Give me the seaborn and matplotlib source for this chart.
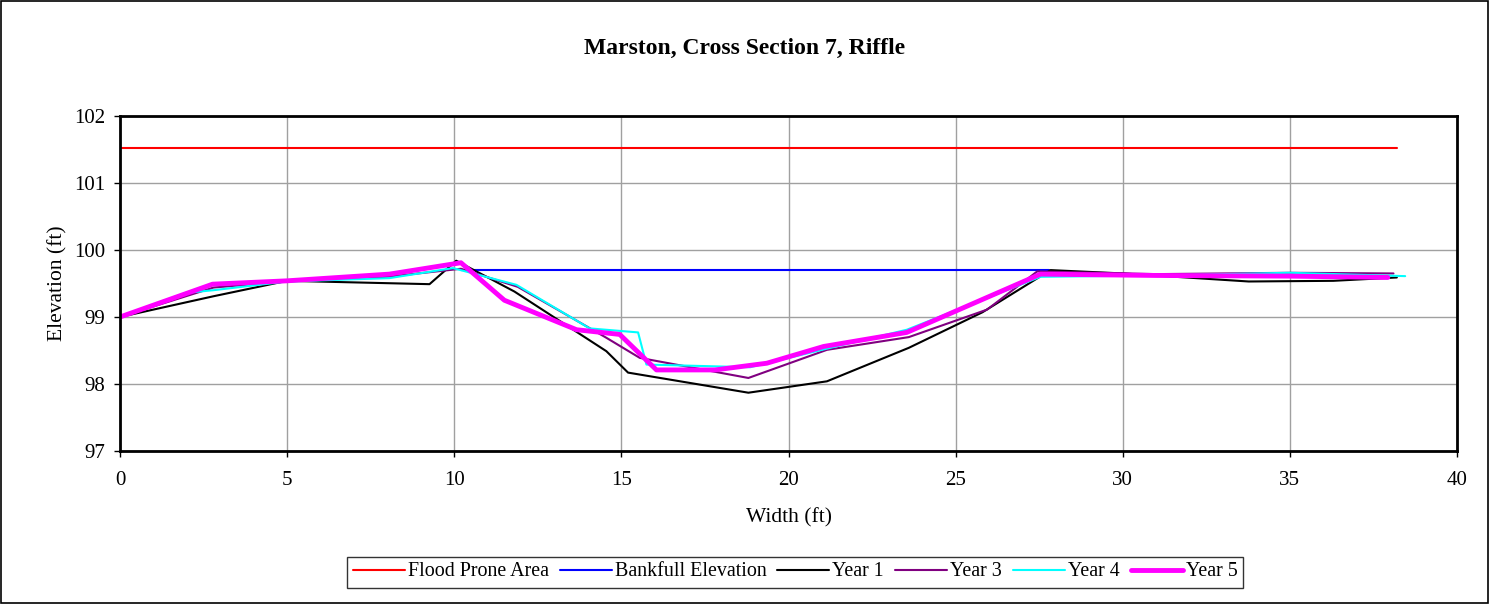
import matplotlib
matplotlib.use("Agg")
import matplotlib.pyplot as plt
import seaborn as sns
import pandas as pd

# Survey data
flood_x = [0, 38.2]
flood_y = [101.52, 101.52]

bankfull_x = [10.2, 27.8]
bankfull_y = [99.70, 99.70]

year1_x = [0, 2.8, 5.0, 9.26, 10.06, 11.8, 14.55, 15.2, 18.8, 21.15, 23.6, 25.8, 27.84, 30.0, 33.77, 36.3, 38.2]
year1_y = [99.0, 99.31, 99.54, 99.49, 99.84, 99.38, 98.49, 98.17, 97.87, 98.04, 98.54, 99.07, 99.70, 99.65, 99.53, 99.54, 99.59]

year3_x = [0, 2.8, 5.0, 8.0, 10.2, 11.9, 13.3, 14.55, 15.55, 18.8, 21.15, 23.6, 25.94, 27.44, 31.0, 35.0, 38.1]
year3_y = [99.0, 99.44, 99.53, 99.60, 99.72, 99.45, 99.05, 98.69, 98.39, 98.09, 98.51, 98.70, 99.11, 99.68, 99.64, 99.66, 99.65]

year4_x = [0, 1.97, 2.8, 5.0, 8.06, 9.96, 11.86, 14.05, 15.5, 15.75, 18.85, 21.0, 23.54, 27.54, 31.0, 35.0, 38.45]
year4_y = [99.0, 99.36, 99.40, 99.53, 99.58, 99.73, 99.48, 98.83, 98.77, 98.29, 98.25, 98.51, 98.81, 99.60, 99.62, 99.66, 99.61]

year5_x = [0, 2.77, 5.0, 8.06, 10.2, 11.5, 13.66, 14.95, 16.05, 17.8, 19.35, 21.05, 23.54, 27.54, 31.0, 35.0, 37.93]
year5_y = [99.0, 99.49, 99.54, 99.64, 99.81, 99.25, 98.81, 98.74, 98.21, 98.21, 98.31, 98.56, 98.77, 99.64, 99.62, 99.61, 99.59]

series = [
    ("Flood Prone Area", flood_x, flood_y, "#ff0000", 1.5),
    ("Bankfull Elevation", bankfull_x, bankfull_y, "#0000ff", 1.5),
    ("Year 1", year1_x, year1_y, "#000000", 1.5),
    ("Year 3", year3_x, year3_y, "#800080", 1.5),
    ("Year 4", year4_x, year4_y, "#00ffff", 1.5),
    ("Year 5", year5_x, year5_y, "#ff00ff", 3.5),
]

frames = []
for name, xs, ys, _, _ in series:
    frames.append(pd.DataFrame({"width": xs, "elev": ys, "series": name}))
df = pd.concat(frames, ignore_index=True)

sns.set_style("white")
plt.rcParams["font.family"] = ["Liberation Serif", "DejaVu Serif"]
plt.rcParams["text.color"] = "black"
plt.rcParams["axes.labelcolor"] = "black"

fig = plt.figure(figsize=(14.9, 6.04), dpi=100)
ax = fig.add_axes([120 / 1490, 1 - 451 / 604, (1457 - 120) / 1490, (451 - 116) / 604])

for name, _, _, color, lw in series:
    sns.lineplot(data=df[df["series"] == name], x="width", y="elev", color=color,
                 linewidth=lw, sort=False, estimator=None, label=name, ax=ax)

ax.set_xlim(0, 40)
ax.set_ylim(97, 102)
ax.set_xticks(range(0, 41, 5))
ax.set_yticks(range(97, 103))
ax.grid(True, color="#a0a0a0", linewidth=1)
ax.set_axisbelow(True)
for sp in ax.spines.values():
    sp.set_color("black")
    sp.set_linewidth(2)
ax.tick_params(axis="both", direction="out", length=4.5, width=1, colors="black",
               labelcolor="black", labelsize=15, left=True, bottom=True)
ax.tick_params(axis="x", pad=10)
ax.tick_params(axis="y", pad=6)

ax.set_xlabel("Width (ft)", fontsize=15.5, labelpad=13, color="black")
ax.set_ylabel("Elevation (ft)", fontsize=15.5, labelpad=5, color="black")
fig.text(0.5, 1 - 48 / 604, "Marston, Cross Section 7, Riffle", ha="center", va="center",
         fontsize=17, fontweight="bold", color="black")

ax.get_legend().remove()
handles, labels = ax.get_legend_handles_labels()
leg = fig.legend(handles, labels, loc="center", bbox_to_anchor=(795 / 1490, 1 - 572 / 604),
                 ncol=6, frameon=True, fontsize=14.4, handlelength=2.6, handletextpad=0.15,
                 columnspacing=0.55, borderpad=0.3, borderaxespad=0, fancybox=False)
leg.get_frame().set_edgecolor("black")
leg.get_frame().set_linewidth(1)
for t in leg.get_texts():
    t.set_color("black")

fig.patches.append(plt.Rectangle((0.0005, 0.001), 0.998, 0.997, transform=fig.transFigure,
                                 fill=False, edgecolor="black", linewidth=1.2))

fig.savefig("out.png", dpi=100)
